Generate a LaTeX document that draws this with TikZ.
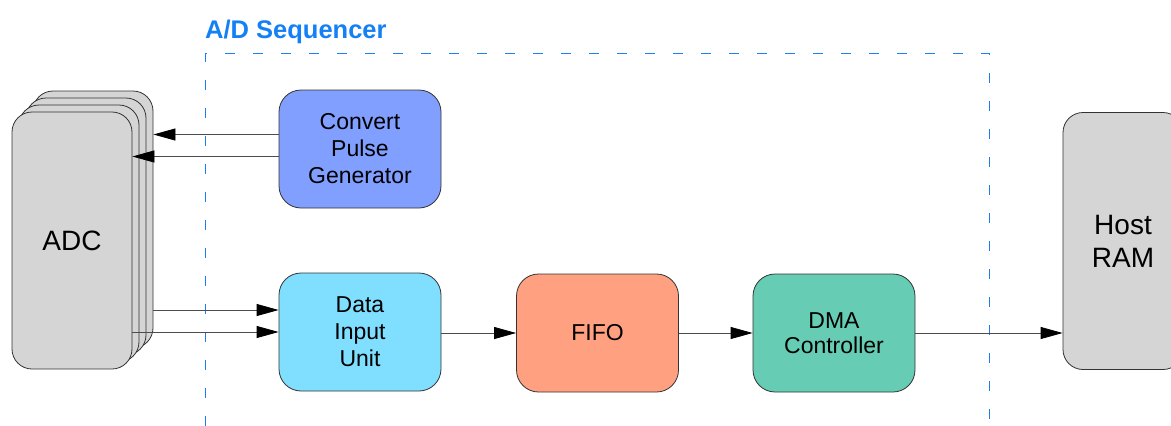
\documentclass[tikz,border=0pt]{standalone}
\usepackage{fontspec}
\setmainfont{Liberation Sans}
\usetikzlibrary{arrows.meta}

\definecolor{seqblue}{HTML}{1480F5}
\definecolor{framecol}{RGB}{30,125,245}
\definecolor{pulseblue}{HTML}{809FFF}
\definecolor{inputcyan}{HTML}{80DFFF}
\definecolor{fifosalmon}{HTML}{FFA080}
\definecolor{dmagreen}{HTML}{66CDB4}
\definecolor{memgray}{HTML}{D5D5D5}

\tikzset{
  block/.style={shape=rectangle, rounded corners=22pt, draw=black!80, line width=0.8pt,
    minimum width=162pt, minimum height=118pt, align=center,
    font=\fontsize{23}{27}\selectfont},
  tall/.style={block, fill=memgray, rounded corners=20pt, minimum width=120pt,
    minimum height=257pt, font=\fontsize{28}{33}\selectfont},
  arr/.style={draw=black!70, line width=0.8pt, -{Triangle[length=22pt,width=12pt,color=black]}},
  seqframe/.style={draw=framecol, line width=1.1pt, dash pattern=on 10pt off 18pt}
}

\begin{document}
\begin{tikzpicture}[x=1pt,y=-1pt]
\useasboundingbox (0,0) rectangle (1171,426);

% sequencer frame, open at the bottom
\coordinate (frameSW) at (205.5,426);
\coordinate (frameNW) at (205.5,53.5);
\coordinate (frameNE) at (989.5,53.5);
\coordinate (frameSE) at (989.5,426);
\draw[seqframe] (frameSW) -- (frameNW) -- (frameNE) -- (frameSE);
\node[anchor=base west, inner sep=0pt, text=seqblue, font=\bfseries\fontsize{25.5}{30}\selectfont] (title) at (205,38) {A/D Sequencer};

% stack of converters
\node[tall] (adc4) at (93,219.5) {};
\node[tall] (adc3) at (86,226.5) {};
\node[tall] (adc2) at (79,233.5) {};
\node[tall] (adc1) at (72,240.5) {ADC};

\node[tall] (host) at (1123,241) {Host\\RAM};

\node[block, fill=pulseblue] (cpg) at (360,149) {Convert\\Pulse\\Generator};
\node[block, fill=inputcyan] (diu) at (360,332) {Data\\Input\\Unit};
\node[block, fill=fifosalmon] (fifo) at (597.5,333) {FIFO};
\node[block, fill=dmagreen, font=\fontsize{23}{25}\selectfont] (dma) at (834,333) {DMA\\Controller};

% connectors
\draw[arr] ([yshift=14.5pt]cpg.west) -- ([yshift=14.5pt]cpg.west -| adc4.east);
\draw[arr] ([yshift=-7.5pt]cpg.west) -- ([yshift=-7.5pt]cpg.west -| adc1.east);
\draw[arr] ([yshift=22pt]diu.west -| adc4.east) -- ([yshift=22pt]diu.west);
\draw[arr] (diu.west -| adc1.east) -- (diu.west);
\draw[arr] (diu.east |- fifo.west) -- (fifo.west);
\draw[arr] (fifo.east) -- (dma.west);
\draw[arr] (dma.east) -- (dma.east -| host.west);
\end{tikzpicture}
\end{document}
